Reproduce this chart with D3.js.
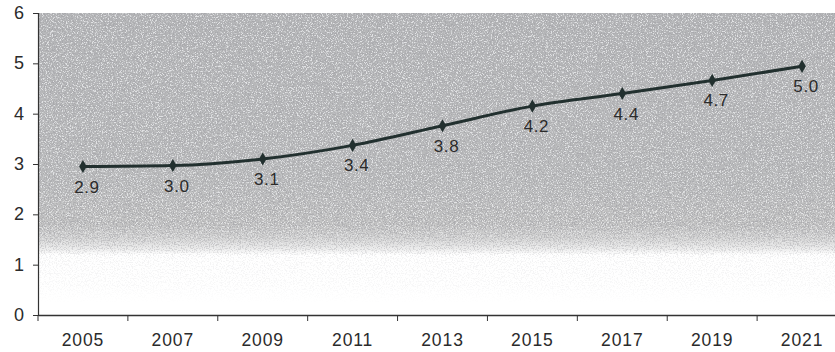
<!DOCTYPE html>
<html>
<head>
<meta charset="utf-8">
<script src="https://cdnjs.cloudflare.com/ajax/libs/d3/7.8.5/d3.min.js"></script>
<style>
  html, body { margin: 0; padding: 0; background: #fff; }
  svg { display: block; }
</style>
</head>
<body>
<div id="chart"></div>
<script>
// data
var years = ['2005', '2007', '2009', '2011', '2013', '2015', '2017', '2019', '2021'];
var values = [2.95, 2.97, 3.1, 3.37, 3.76, 4.15, 4.4, 4.66, 4.94];
var labels = ['2.9', '3.0', '3.1', '3.4', '3.8', '4.2', '4.4', '4.7', '5.0'];
var yTicks = [0, 1, 2, 3, 4, 5, 6];

var width = 835, height = 352;
var plotLeft = 38, plotTop = 13, plotBottom = 315, plotRight = 847;
var font = 'Liberation Sans, Arial, sans-serif';
var ink = '#2b2b2b';

var svg = d3.select('#chart').append('svg')
  .attr('width', width)
  .attr('height', height)
  .attr('font-family', font);

var x = d3.scaleBand().domain(years).range([plotLeft, plotRight]).padding(0);
var y = d3.scaleLinear().domain([0, 6]).range([plotBottom, plotTop]);

var defs = svg.append('defs');

// grey halftone backdrop, fades out near 1.2
var grad = defs.append('linearGradient')
  .attr('id', 'bg').attr('x1', 0).attr('y1', 0).attr('x2', 0).attr('y2', 1);
[[0, '#b4b5b7'], [0.55, '#babbbc'], [0.7, '#c2c2c2'], [0.745, '#d2d2d2'], [0.78, '#ebebeb'], [0.8, '#ffffff'], [1, '#ffffff']]
  .forEach(function(s) { grad.append('stop').attr('offset', s[0]).attr('stop-color', s[1]); });

var mgrad = defs.append('linearGradient')
  .attr('id', 'mg').attr('x1', 0).attr('y1', 0).attr('x2', 0).attr('y2', 1);
[[0, '#fff'], [0.7, '#eee'], [0.78, '#777'], [0.81, '#2a2a2a'], [0.9, '#1a1a1a'], [0.96, '#000'], [1, '#000']]
  .forEach(function(s) { mgrad.append('stop').attr('offset', s[0]).attr('stop-color', s[1]); });

defs.append('mask').attr('id', 'noiseMask')
  .append('rect')
    .attr('x', plotLeft).attr('y', plotTop)
    .attr('width', plotRight - plotLeft).attr('height', plotBottom - plotTop)
    .attr('fill', 'url(#mg)');

// speckle grain: thresholded noise gives hard dots like the print
var f = defs.append('filter').attr('id', 'grain')
  .attr('x', 0).attr('y', 0).attr('width', 1).attr('height', 1);
f.append('feTurbulence')
  .attr('type', 'fractalNoise')
  .attr('baseFrequency', 0.75)
  .attr('numOctaves', 2)
  .attr('seed', 7);
f.append('feColorMatrix')
  .attr('type', 'matrix')
  .attr('values', '0 0 0 0 0.38  0 0 0 0 0.38  0 0 0 0 0.40  7 0 0 0 -3.45');

var f2 = defs.append('filter').attr('id', 'grainLight')
  .attr('x', 0).attr('y', 0).attr('width', 1).attr('height', 1);
f2.append('feTurbulence')
  .attr('type', 'fractalNoise')
  .attr('baseFrequency', 0.8)
  .attr('numOctaves', 2)
  .attr('seed', 21);
f2.append('feColorMatrix')
  .attr('type', 'matrix')
  .attr('values', '0 0 0 0 0.92  0 0 0 0 0.93  0 0 0 0 0.95  7 0 0 0 -3.6');

var plot = svg.append('g');

plot.append('rect')
  .attr('x', plotLeft).attr('y', plotTop)
  .attr('width', plotRight - plotLeft).attr('height', plotBottom - plotTop)
  .attr('fill', 'url(#bg)');

plot.append('rect')
  .attr('x', plotLeft).attr('y', plotTop)
  .attr('width', plotRight - plotLeft).attr('height', plotBottom - plotTop)
  .attr('filter', 'url(#grainLight)')
  .attr('mask', 'url(#noiseMask)')
  .attr('opacity', 0.7);

plot.append('rect')
  .attr('x', plotLeft).attr('y', plotTop)
  .attr('width', plotRight - plotLeft).attr('height', plotBottom - plotTop)
  .attr('filter', 'url(#grain)')
  .attr('mask', 'url(#noiseMask)')
  .attr('opacity', 0.8);

// axes
var yAxis = svg.append('g')
  .attr('transform', 'translate(' + plotLeft + ',0)')
  .call(d3.axisLeft(y).tickValues(yTicks).tickSize(5).tickPadding(9).tickFormat(d3.format('d')));
yAxis.select('.domain').attr('stroke', '#333').attr('stroke-width', 1.2);
yAxis.selectAll('.tick line').attr('stroke', '#333');
yAxis.selectAll('.tick text')
  .attr('fill', ink)
  .attr('font-size', 18)
  .attr('dy', '0.3em')
  .attr('font-family', font);

var xAxis = svg.append('g')
  .attr('transform', 'translate(0,' + plotBottom + ')')
  .call(d3.axisBottom(x).tickSize(0));
xAxis.select('.domain').attr('stroke', '#333').attr('stroke-width', 1.5);
xAxis.selectAll('.tick text')
  .attr('fill', ink)
  .attr('font-size', 17.5)
  .attr('letter-spacing', 0.9)
  .attr('y', 31)
  .attr('dy', 0)
  .attr('font-family', font);

// tick marks sit on the band edges
xAxis.selectAll('.edge')
  .data(years)
  .enter().append('line')
    .attr('class', 'edge')
    .attr('x1', function(d) { return x(d); })
    .attr('x2', function(d) { return x(d); })
    .attr('y1', 0).attr('y2', 6)
    .attr('stroke', '#333');

// line + markers
var cx = function(d, i) { return x(years[i]) + x.bandwidth() / 2; };

var line = d3.line()
  .x(function(d, i) { return cx(d, i); })
  .y(function(d) { return y(d); })
  .curve(d3.curveMonotoneX);

svg.append('path')
  .datum(values)
  .attr('d', line)
  .attr('fill', 'none')
  .attr('stroke', '#22302f')
  .attr('stroke-width', 3);

svg.selectAll('.pt')
  .data(values)
  .enter().append('path')
    .attr('class', 'pt')
    .attr('d', d3.symbol().type(d3.symbolDiamond).size(50))
    .attr('transform', function(d, i) { return 'translate(' + cx(d, i) + ',' + y(d) + ')'; })
    .attr('fill', '#22302f');

svg.selectAll('.lbl')
  .data(values)
  .enter().append('text')
    .attr('class', 'lbl')
    .attr('x', function(d, i) { return cx(d, i) + 4; })
    .attr('y', function(d) { return y(d) + 26; })
    .attr('text-anchor', 'middle')
    .attr('font-size', 17)
    .attr('letter-spacing', 0.6)
    .attr('fill', ink)
    .text(function(d, i) { return labels[i]; });
</script>
</body>
</html>
